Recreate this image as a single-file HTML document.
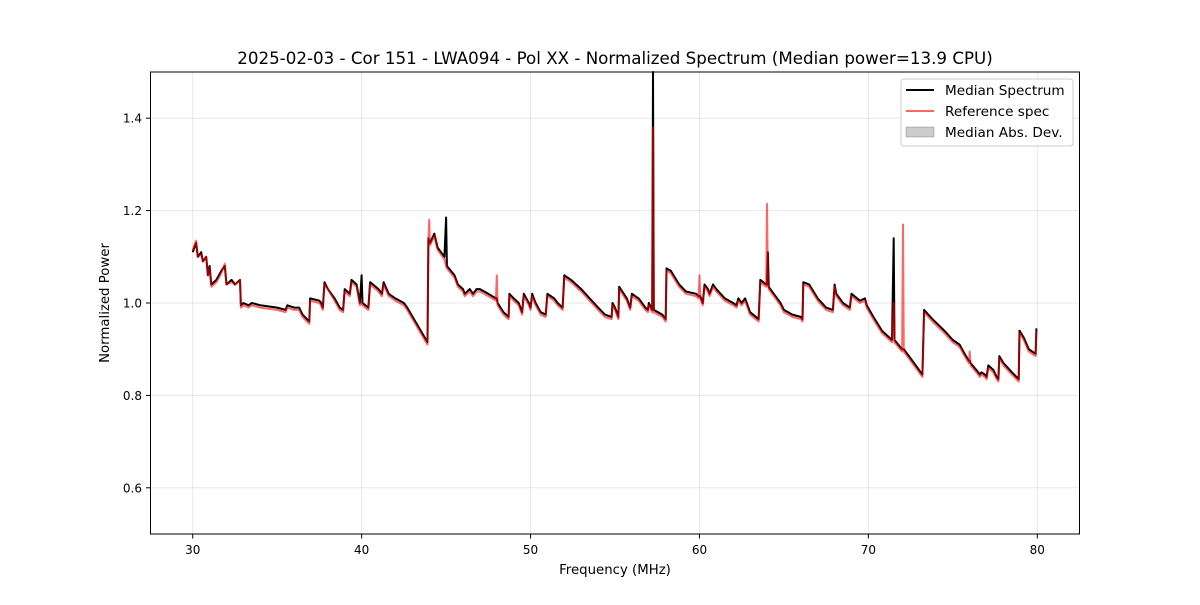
<!DOCTYPE html>
<html><head><meta charset="utf-8"><style>
body{margin:0;background:#fff;font-family:"Liberation Sans","DejaVu Sans",sans-serif}
text{font-family:"DejaVu Sans","Liberation Sans",sans-serif}
</style></head><body>
<svg id="chart" width="1200" height="600" xmlns="http://www.w3.org/2000/svg">
<rect width="1200" height="600" fill="#fff"/>
<g id="grid"></g>
<g id="series"></g>
<rect x="150.5" y="72" width="929" height="462" fill="none" stroke="#000" stroke-width="1"/>
<g id="ticks"></g>
<text x="615" y="64" font-size="16.7" text-anchor="middle">2025-02-03 - Cor 151 - LWA094 - Pol XX - Normalized Spectrum (Median power=13.9 CPU)</text>
<text x="615" y="574" font-size="13.3" text-anchor="middle">Frequency (MHz)</text>
<text x="109" y="303" font-size="13.3" text-anchor="middle" transform="rotate(-90 109 303)">Normalized Power</text>
<g>
<rect x="901" y="79" width="172" height="67" rx="3" fill="#fff" fill-opacity="0.8" stroke="#ccc"/>
<line x1="906" y1="90" x2="934" y2="90" stroke="#000" stroke-width="2"/>
<text x="945" y="95" font-size="13.6">Median Spectrum</text>
<line x1="906" y1="111" x2="934" y2="111" stroke="#ff0000" stroke-opacity="0.6" stroke-width="2"/>
<text x="945" y="116" font-size="13.6">Reference spec</text>
<rect x="906" y="127" width="28" height="10" fill="#000" fill-opacity="0.2" stroke="#000" stroke-opacity="0.2"/>
<text x="945" y="137" font-size="13.6">Median Abs. Dev.</text>
</g>
</svg>
<script>
const freqs=[30.0,30.2,30.3,30.5,30.6,30.8,30.9,31.0,31.1,31.4,31.7,31.9,32.0,32.3,32.5,32.8,32.85,33.0,33.3,33.5,34,35,35.5,35.6,36,36.3,36.5,36.9,36.95,37.5,37.6,37.7,37.8,38.0,38.4,38.7,38.9,39.0,39.3,39.4,39.7,39.9,40.0,40.05,40.4,40.5,41,41.2,41.3,41.6,42,42.5,42.7,43.9,43.95,44.0,44.05,44.3,44.5,44.9,45.0,45.05,45.5,45.7,46,46.1,46.4,46.6,46.8,47.0,47.5,47.95,48.0,48.05,48.4,48.7,48.75,49,49.3,49.5,49.6,49.9,50.0,50.1,50.3,50.6,50.9,51.0,51.4,51.6,51.9,52,52.4,53,53.5,54,54.4,54.8,54.85,55.0,55.2,55.25,55.7,55.9,56.0,56.4,56.8,56.95,57.0,57.2,57.25,57.3,57.8,58.0,58.05,58.3,58.8,59.2,59.8,59.95,60.0,60.05,60.2,60.3,60.5,60.6,60.8,61,61.5,62,62.2,62.3,62.5,62.7,63.0,63.5,63.6,63.95,64.0,64.05,64.1,64.4,64.8,65,65.5,66,66.1,66.15,66.5,67,67.5,67.9,68,68.1,68.5,68.9,69,69.5,69.8,69.9,70.3,70.8,71.4,71.5,71.55,72,72.05,72.1,72.5,73.2,73.3,73.8,74.5,75,75.4,75.7,75.95,76.0,76.05,76.5,76.6,76.7,76.9,77.0,77.1,77.4,77.6,77.7,77.75,78,78.5,78.9,78.95,79.2,79.5,79.9,79.95];
const medVals=[1.11,1.13,1.10,1.11,1.09,1.10,1.06,1.08,1.04,1.05,1.07,1.08,1.04,1.05,1.04,1.05,0.995,1.0,0.995,1.0,0.995,0.99,0.985,0.995,0.99,0.99,0.975,0.96,1.01,1.005,1.0,0.99,1.045,1.03,1.01,0.99,0.985,1.03,1.02,1.05,1.04,1.0,1.06,1.0,0.99,1.045,1.03,1.02,1.045,1.02,1.01,1.0,0.99,0.915,1.14,1.13,1.13,1.15,1.12,1.10,1.185,1.08,1.06,1.04,1.03,1.02,1.03,1.02,1.03,1.03,1.02,1.01,1.01,1.0,0.98,0.97,1.02,1.01,1.0,0.98,1.02,1.0,0.99,1.02,1.0,0.98,0.975,1.02,1.01,1.0,0.99,1.06,1.05,1.03,1.01,0.99,0.975,0.97,1.0,0.99,0.97,1.035,1.01,0.99,1.02,1.01,0.99,0.985,1.0,0.985,1.5,0.985,0.975,0.965,1.075,1.07,1.04,1.025,1.02,1.015,1.015,1.015,1.0,1.04,1.03,1.02,1.04,1.03,1.01,1.0,0.995,1.01,1.0,1.01,0.98,0.965,1.05,1.04,1.04,1.11,1.035,1.02,1.0,0.985,0.975,0.97,0.965,1.045,1.04,1.01,0.99,0.985,1.04,1.02,1.0,0.99,1.02,1.005,1.01,0.995,0.97,0.94,0.92,1.14,0.92,0.9,0.9,0.9,0.88,0.845,0.985,0.965,0.94,0.92,0.91,0.89,0.875,0.875,0.87,0.85,0.845,0.85,0.845,0.84,0.865,0.855,0.84,0.835,0.885,0.87,0.85,0.835,0.94,0.925,0.9,0.89,0.945];
const refVals=[1.115,1.135,1.10,1.105,1.09,1.10,1.06,1.075,1.035,1.045,1.065,1.085,1.04,1.045,1.04,1.05,0.99,0.995,0.99,0.995,0.99,0.985,0.98,0.99,0.985,0.985,0.97,0.955,1.005,1.0,0.995,0.985,1.04,1.03,1.005,0.985,0.98,1.025,1.015,1.045,1.035,0.995,1.0,0.995,0.985,1.04,1.025,1.015,1.04,1.015,1.005,0.995,0.985,0.91,1.135,1.18,1.125,1.145,1.115,1.095,1.08,1.075,1.055,1.035,1.025,1.015,1.025,1.015,1.025,1.025,1.015,1.005,1.06,0.995,0.975,0.965,1.015,1.005,0.995,0.975,1.015,0.995,0.985,1.015,0.995,0.975,0.97,1.015,1.005,0.995,0.985,1.055,1.045,1.025,1.005,0.985,0.97,0.965,0.995,0.985,0.965,1.03,1.005,0.985,1.015,1.005,0.985,0.98,0.995,0.98,1.38,0.98,0.97,0.96,1.07,1.065,1.035,1.02,1.015,1.01,1.06,1.01,0.995,1.035,1.025,1.015,1.035,1.025,1.005,0.995,0.99,1.005,0.995,1.005,0.975,0.96,1.045,1.035,1.215,1.04,1.03,1.015,0.995,0.98,0.97,0.965,0.96,1.04,1.035,1.005,0.985,0.98,1.035,1.015,0.995,0.985,1.015,1.0,1.005,0.99,0.965,0.935,0.915,1.0,0.915,0.895,1.17,0.895,0.875,0.84,0.98,0.96,0.935,0.915,0.905,0.885,0.87,0.895,0.865,0.845,0.84,0.845,0.84,0.835,0.86,0.85,0.835,0.83,0.88,0.865,0.845,0.83,0.935,0.92,0.895,0.885,0.94];
const xTicks=[30,40,50,60,70,80];
const yTicks=[0.6,0.8,1.0,1.2,1.4];
const X=f=>150.5+(f-27.5)/55*929;
const Y=v=>534-(v-0.5)/1.0*462;
const NS='http://www.w3.org/2000/svg';
const grid=document.getElementById('grid'),ticks=document.getElementById('ticks'),ser=document.getElementById('series');
function mk(tag,attrs,parent){const e=document.createElementNS(NS,tag);for(const k in attrs)e.setAttribute(k,attrs[k]);parent.appendChild(e);return e;}
xTicks.forEach(t=>{const x=X(t);
 const g=mk('line',{x1:x,x2:x,y1:72,y2:534,stroke:'#b0b0b0','stroke-opacity':0.3},grid);
 
 
 mk('line',{x1:x,x2:x,y1:534,y2:538.5,stroke:'#000'},ticks);
 const tx=mk('text',{x:x,y:554,'font-size':12,'text-anchor':'middle'},ticks);tx.textContent=t;
 
 });
yTicks.forEach(t=>{const y=Y(t);
 const g=mk('line',{x1:150.5,x2:1079.5,y1:y,y2:y,stroke:'#b0b0b0','stroke-opacity':0.3},grid);
 
 
 mk('line',{x1:146,x2:150.5,y1:y,y2:y,stroke:'#000'},ticks);
 const tx=mk('text',{x:142,y:y+4.5,'font-size':12,'text-anchor':'end'},ticks);tx.textContent=t.toFixed(1);
 
 });
const pts=a=>freqs.map((f,i)=>X(f).toFixed(1)+','+Y(a[i]).toFixed(1)).join(' ');
const med=mk('polyline',{points:pts(medVals),fill:'none',stroke:'#000','stroke-width':2,'stroke-linejoin':'round'},ser);


const ref=mk('polyline',{points:pts(refVals),fill:'none',stroke:'#ff0000','stroke-opacity':0.6,'stroke-width':2,'stroke-linejoin':'round'},ser);


</script>
</body></html>
